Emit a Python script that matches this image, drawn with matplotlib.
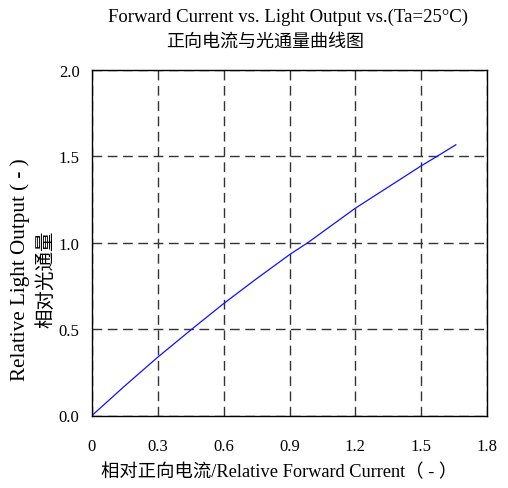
import matplotlib
matplotlib.use("Agg")
import matplotlib.pyplot as plt

current = [0, 0.15, 0.3, 0.455, 0.6, 0.75, 0.9, 0.983, 1.2, 1.5, 1.572, 1.658]
light_output = [0, 0.172, 0.338, 0.5, 0.648, 0.792, 0.931, 1.0, 1.2, 1.445, 1.5, 1.567]
xticks = [0, 0.3, 0.6, 0.9, 1.2, 1.5, 1.8]
xticklabels = ["0", "0.3", "0.6", "0.9", "1.2", "1.5", "1.8"]
yticks = [0.0, 0.5, 1.0, 1.5, 2.0]
yticklabels = ["0.0", "0.5", "1.0", "1.5", "2.0"]

serif = ["Liberation Serif", "Noto Sans CJK SC"]
cjk = ["Noto Sans CJK SC", "Liberation Serif"]

fig = plt.figure(figsize=(5.08, 4.89), dpi=100)
ax = fig.add_axes([92/508, 1-416.5/489, 395/508, 345.5/489])
ax.plot(current, light_output, color="#1010ff", lw=0.9)
ax.set_xlim(0, 1.8)
ax.set_ylim(0, 2.0)
ax.set_xticks(xticks)
ax.set_xticklabels(xticklabels, family=serif, fontsize=12)
ax.set_yticks(yticks)
ax.set_yticklabels(yticklabels, family=serif, fontsize=12)
ax.tick_params(length=0, pad=9)
ax.tick_params(axis="x", pad=16)
ax.grid(True, color="#333333", linestyle=(0, (7, 4)), lw=1.0)
for s in ax.spines.values():
    s.set_linewidth(1.0)
    s.set_color("black")

fig.text(288.5/508, 1 - 17/489, "Forward Current vs. Light Output vs.(Ta=25°C)",
         ha="center", va="center", family=serif, fontsize=13.5)
fig.text(265.5/508, 1 - 42/489, "正向电流与光通量曲线图", ha="center", va="center",
         family=cjk, fontsize=13)
fig.text(20/508, 1 - 270/489, "Relative Light Output ( - )", rotation=90,
         ha="center", va="center", family=serif, fontsize=15.2)
fig.text(46/508, 1 - 279/489, "相对光通量", rotation=90,
         ha="center", va="center", family=cjk, fontsize=14)
fig.text(279/508, 1 - 472/489, "相对正向电流/Relative Forward Current（ - ）",
         ha="center", va="center", family=serif, fontsize=13.2)

fig.savefig("out.png", dpi=100)
